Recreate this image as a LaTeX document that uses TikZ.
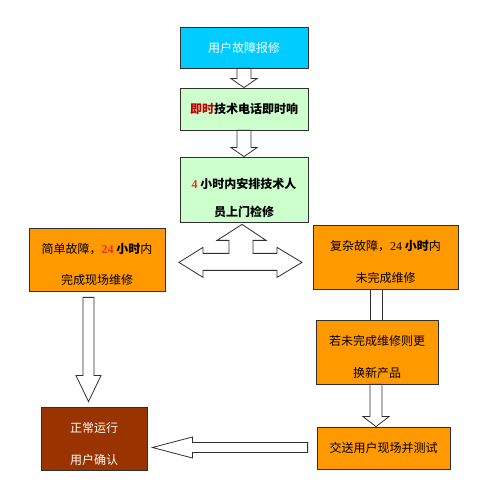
\documentclass[tikz,border=0pt]{standalone}
\usepackage{fontspec}
\setmainfont{Noto Sans CJK SC}
\newfontfamily\numfont{Liberation Serif}
\usetikzlibrary{calc}
\definecolor{cyanc}{HTML}{00CCFF}
\definecolor{greenc}{HTML}{CCFFCC}
\definecolor{orangec}{HTML}{FF9900}
\definecolor{brownc}{HTML}{993300}
\definecolor{redc}{HTML}{E8301C}
\definecolor{dredc}{HTML}{C00000}
\definecolor{linec}{HTML}{303030}
\tikzset{
  box/.style={draw=linec,line width=0.8pt,inner sep=0pt,align=center,font=\fontsize{12}{31.5}\selectfont},
  cbox/.style={box,fill=cyanc,text=white,minimum width=128pt,minimum height=41pt},
  gbox/.style={box,fill=greenc,minimum width=128pt,font=\fontsize{12}{28}\selectfont\bfseries},
  obox/.style={box,fill=orangec},
  bbox/.style={box,fill=brownc,text=white},
  blk/.style={draw=linec,fill=white,line width=0.8pt,line join=miter},
  edge/.style={draw=linec,line width=0.8pt},
}
% strut that pushes two-line text a bit down in its box
\newcommand{\lowtext}[1]{\rule{0pt}{#1pt}}
% block arrow pointing down: from, to, shaft half width, head half width, head length
\newcommand{\dnblk}[5]{%
  \draw[blk] let \p1=(#1), \p2=(#2) in
    (\x1-#3pt,\y1) -- (\x1+#3pt,\y1) -- (\x1+#3pt,\y2+#5pt) -- (\x1+#4pt,\y2+#5pt)
    -- (\x1,\y2) -- (\x1-#4pt,\y2+#5pt) -- (\x1-#3pt,\y2+#5pt) -- cycle;}
% block arrow pointing left
\newcommand{\ltblk}[5]{%
  \draw[blk] let \p1=(#1), \p2=(#2) in
    (\x1,\y1+#3pt) -- (\x2+#5pt,\y1+#3pt) -- (\x2+#5pt,\y1+#4pt) -- (\x2,\y1)
    -- (\x2+#5pt,\y1-#4pt) -- (\x2+#5pt,\y1-#3pt) -- (\x1,\y1-#3pt) -- cycle;}

\begin{document}
\begin{tikzpicture}[x=1pt,y=1pt]
  \fill[white] (0,0) rectangle (480,497);
  \useasboundingbox (0,0) rectangle (480,497);
  % boxes
  \node[cbox] (report) at (244,449.5) {用户故障报修};
  \node[gbox,minimum height=42pt] (phone) at (244,388) {{\color{dredc}即时}技术电话即时响};
  \node[gbox,minimum height=65pt] (dispatch) at (244,307.5)
    {\lowtext{28}{\numfont\color{redc}4} 小时内安排技术人\\员上门检修};
  \node[obox,minimum width=136pt,minimum height=63pt] (simple) at (97,237.5)
    {\lowtext{20}简单故障，{\numfont\bfseries\color{redc}24} \textbf{小时}内\\完成现场维修};
  \node[obox,minimum width=145pt,minimum height=64pt] (complex) at (385.5,240)
    {\lowtext{20}复杂故障，{\numfont 24} \textbf{小时}内\\未完成维修};
  \node[obox,minimum width=122pt,minimum height=64pt] (replace) at (377,145)
    {\lowtext{20}若未完成维修则更\\换新产品};
  \node[obox,minimum width=133pt,minimum height=42pt] (deliver) at (383.5,49) {交送用户现场并测试};
  \node[bbox,minimum width=106pt,minimum height=63pt] (confirm) at (94,58.5)
    {\lowtext{21}正常运行\\用户确认};
  % arrows
  \dnblk{report.south}{phone.north}{7}{13}{9}
  \dnblk{phone.south}{dispatch.north}{7}{13}{9}
  \coordinate (fork) at ($(dispatch.south)+(-2,-2)$);
  \draw[blk] (fork) -- ++(24,-16) -- ++(-13,0) -- ++(0,-13) -- ++(24,0) -- ++(0,6)
    -- ++(25,-15) -- ++(-25,-15) -- ++(0,7) -- ++(-74,0) -- ++(0,-7) -- ++(-24,15)
    -- ++(24,15) -- ++(0,-6) -- ++(26,0) -- ++(0,13) -- ++(-12,0) -- cycle;
  \dnblk{$(simple.south)+(-8.5,-6)$}{$(confirm.north)+(0,5)$}{5.5}{12.5}{26}
  \coordinate (rl) at ($(replace.north)+(-7,0)$);
  \coordinate (rr) at ($(replace.north)+(5,0)$);
  \draw[edge] (rl) -- (rl |- complex.south);
  \draw[edge] (rr) -- (rr |- complex.south);
  \dnblk{$(replace.south)+(-1,0)$}{deliver.north}{6}{13}{10}
  \ltblk{$(deliver.west)+(-9,0.5)$}{$(confirm.east)+(5,0)$}{5}{10.5}{40}
\end{tikzpicture}
\end{document}
